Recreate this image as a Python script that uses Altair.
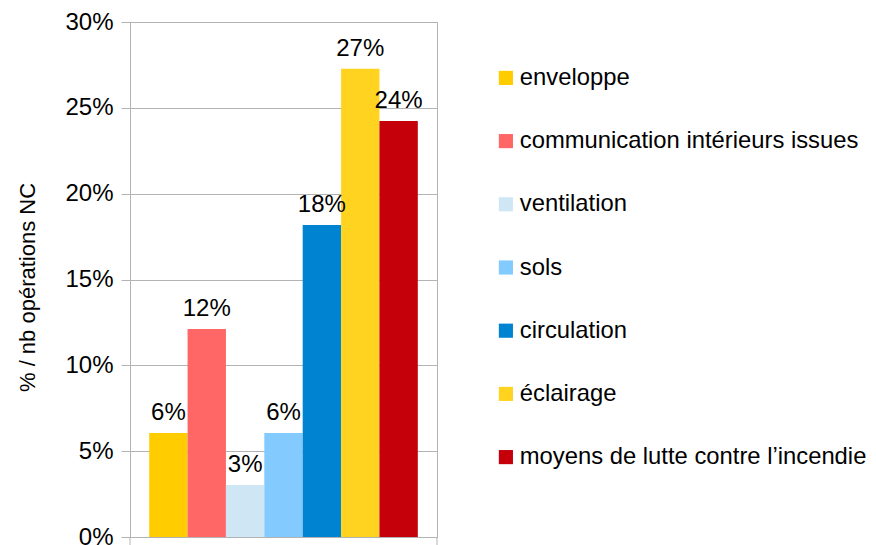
import altair as alt
import pandas as pd

categories = [
    "enveloppe",
    "communication intérieurs issues",
    "ventilation",
    "sols",
    "circulation",
    "éclairage",
    "moyens de lutte contre l’incendie",
]
values = [0.0606, 0.1212, 0.0303, 0.0606, 0.1818, 0.2727, 0.2424]
labels = ["6%", "12%", "3%", "6%", "18%", "27%", "24%"]
colors = ["#ffcc00", "#ff6666", "#cfe7f5", "#83caff", "#0084d1", "#ffd320", "#c5000b"]
y_ticks = [0, 0.05, 0.10, 0.15, 0.20, 0.25, 0.30]

FONT = "Liberation Sans"
GRAY = "#b3b3b3"
W, H = 307, 515

df = pd.DataFrame({"cat": categories, "val": values, "label": labels})

x_enc = alt.X(
    "cat:N",
    sort=categories,
    scale=alt.Scale(paddingInner=0, paddingOuter=0.5),
    axis=alt.Axis(labels=False, ticks=False, title=None, domainColor=GRAY),
)

base = alt.Chart(df).encode(x=x_enc)

bars = base.mark_bar().encode(
    y=alt.Y(
        "val:Q",
        scale=alt.Scale(domain=[0, 0.30], nice=False, zero=True),
        axis=alt.Axis(
            values=y_ticks,
            format=".0%",
            title="% / nb opérations NC",
            titleFont=FONT,
            titleFontSize=22,
            titleFontWeight="normal",
            titleColor="black",
            titlePadding=25,
            titleY=265,
            labelFont=FONT,
            labelFontSize=24,
            labelColor="black",
            labelPadding=8,
            tickSize=9,
            tickColor=GRAY,
            domainColor=GRAY,
            gridColor=GRAY,
        ),
    ),
    color=alt.Color(
        "cat:N",
        sort=categories,
        scale=alt.Scale(domain=categories, range=colors),
        legend=alt.Legend(
            title=None,
            orient="none",
            legendX=364,
            legendY=44,
            symbolType="square",
            symbolSize=200,
            symbolStrokeWidth=0,
            symbolOpacity=1,
            labelFont=FONT,
            labelFontSize=23.8,
            labelColor="black",
            labelOffset=2,
            rowPadding=38.2,
            labelLimit=500,
        ),
    ),
)

text = base.mark_text(
    baseline="alphabetic", dy=-13, fontSize=24, font=FONT, color="black"
).encode(y=alt.Y("val:Q"), text="label:N")

edge = pd.DataFrame({"a": [0]})
rule_left = alt.Chart(edge).mark_rule(color=GRAY).encode(
    x=alt.value(0), y=alt.value(H), y2=alt.value(H + 9)
)
rule_right = alt.Chart(edge).mark_rule(color=GRAY).encode(
    x=alt.value(W), y=alt.value(H), y2=alt.value(H + 9)
)

chart = (
    alt.layer(bars, text, rule_left, rule_right)
    .properties(
        width=W,
        height=H,
        autosize=alt.AutoSizeParams(type="none"),
        padding={"left": 122, "top": 14, "right": 431, "bottom": 8},
    )
    .configure_view(stroke=GRAY)
)

chart.save("out.html", embed_options={"renderer": "svg", "actions": False})
